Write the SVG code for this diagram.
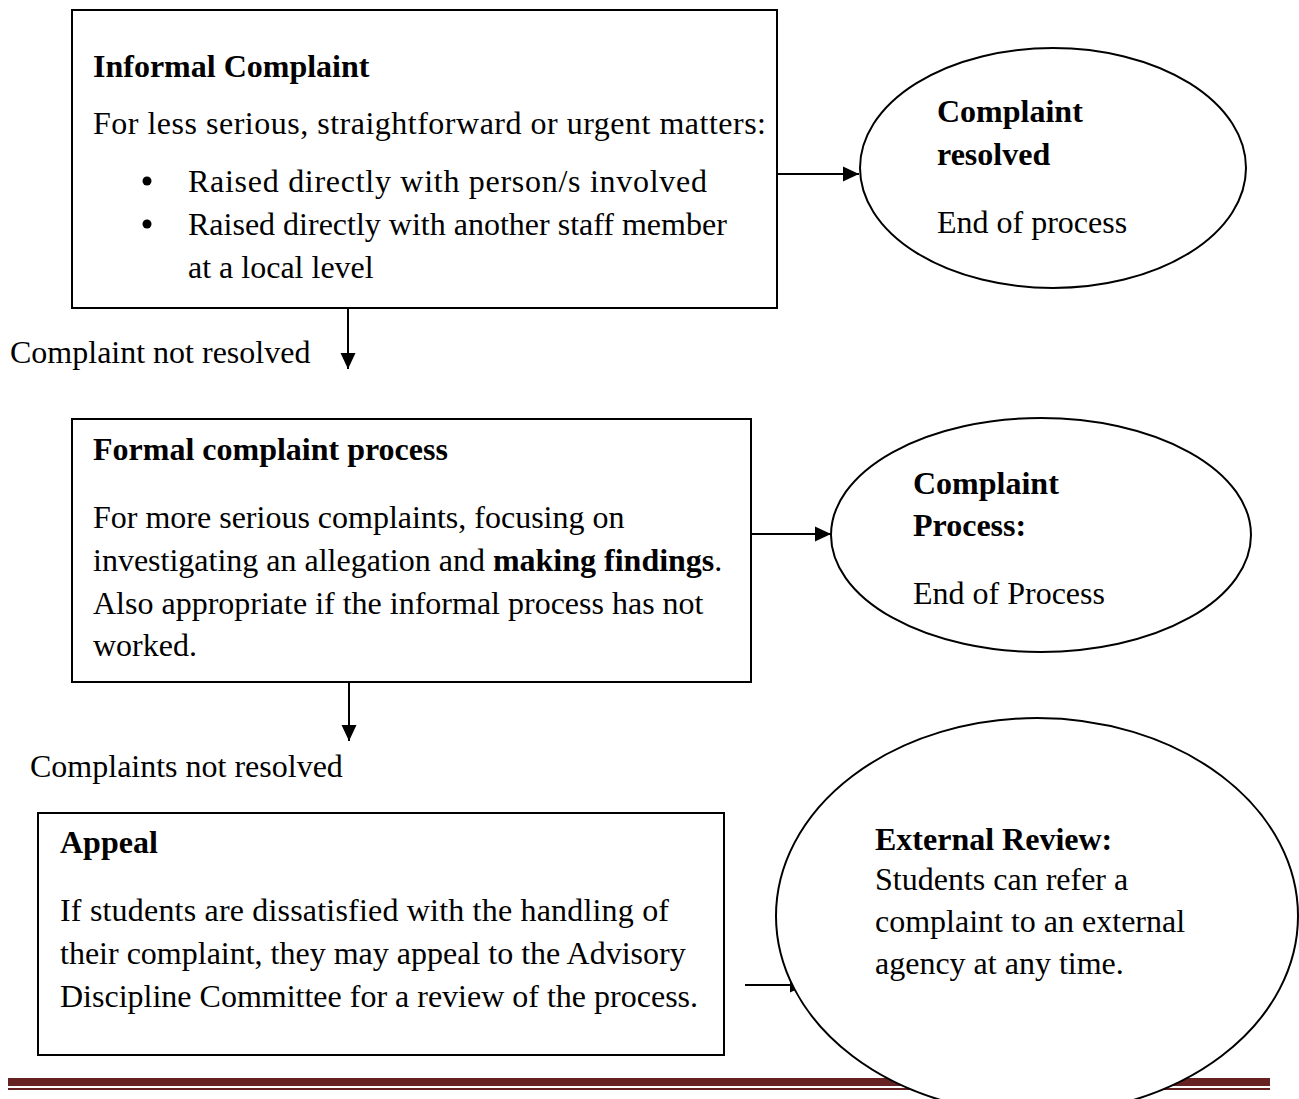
<svg xmlns="http://www.w3.org/2000/svg" width="1299" height="1099" viewBox="0 0 1299 1099">
<style>
text{font-family:"Liberation Serif","Times New Roman",serif;font-size:32px;fill:#000}
.b{font-weight:bold}
.box{fill:#fff;stroke:#000;stroke-width:2}
.ell{fill:#fff;stroke:#000;stroke-width:2}
.con{stroke:#000;stroke-width:2;fill:none}
</style>
<defs>
<marker id="ah" markerUnits="userSpaceOnUse" markerWidth="17" markerHeight="17" viewBox="0 0 17 16" refX="16" refY="8" orient="auto">
<path d="M0,0.5 L16,8 L0,15.5 Z" fill="#000"/>
</marker>
</defs>
<rect x="0" y="0" width="1299" height="1099" fill="#fff"/>
<g id="connectors">
<line class="con" x1="777" y1="174" x2="859" y2="174" marker-end="url(#ah)"/>
<line class="con" x1="348" y1="308" x2="348" y2="369" marker-end="url(#ah)"/>
<line class="con" x1="751" y1="534" x2="831" y2="534" marker-end="url(#ah)"/>
<line class="con" x1="349" y1="682" x2="349" y2="741" marker-end="url(#ah)"/>
<line class="con" x1="745" y1="985" x2="806" y2="985" marker-end="url(#ah)"/>
</g>
<g id="footer-rule">
<rect x="8" y="1078" width="1262" height="8" fill="#662222"/>
<rect x="8" y="1088" width="1262" height="2" fill="#662222"/>
</g>
<g id="informal">
<rect class="box" x="72" y="10" width="705" height="298"/>
<text class="b" x="93" y="77">Informal Complaint</text>
<text x="93" y="134" textLength="673" lengthAdjust="spacing">For less serious, straightforward or urgent matters:</text>
<circle cx="147" cy="181" r="4.5"/>
<text x="188" y="192" textLength="519" lengthAdjust="spacing">Raised directly with person/s involved</text>
<circle cx="147" cy="224" r="4.5"/>
<text x="188" y="235">Raised directly with another staff member</text>
<text x="188" y="278">at a local level</text>
</g>
<g id="resolved">
<ellipse class="ell" cx="1053" cy="168" rx="193" ry="120"/>
<text class="b" x="937" y="122">Complaint</text>
<text class="b" x="937" y="165">resolved</text>
<text x="937" y="233">End of process</text>
</g>
<g id="label-not-resolved">
<text x="10" y="363">Complaint not resolved</text>
</g>
<g id="formal">
<rect class="box" x="72" y="419" width="679" height="263"/>
<text class="b" x="93" y="460">Formal complaint process</text>
<text x="93" y="528">For more serious complaints, focusing on</text>
<text x="93" y="571">investigating an allegation and <tspan class="b">making findings</tspan>.</text>
<text x="93" y="614">Also appropriate if the informal process has not</text>
<text x="93" y="656">worked.</text>
</g>
<g id="process-end">
<ellipse class="ell" cx="1041" cy="535" rx="210" ry="117"/>
<text class="b" x="913" y="494">Complaint</text>
<text class="b" x="913" y="536">Process:</text>
<text x="913" y="604">End of Process</text>
</g>
<g id="label-complaints-not-resolved">
<text x="30" y="777">Complaints not resolved</text>
</g>
<g id="appeal">
<rect class="box" x="38" y="813" width="686" height="242"/>
<text class="b" x="60" y="853">Appeal</text>
<text x="60" y="921" textLength="609" lengthAdjust="spacing">If students are dissatisfied with the handling of</text>
<text x="60" y="964">their complaint, they may appeal to the Advisory</text>
<text x="60" y="1007">Discipline Committee for a review of the process.</text>
</g>
<g id="external">
<ellipse class="ell" cx="1037" cy="916" rx="261" ry="198"/>
<text class="b" x="875" y="850">External Review:</text>
<text x="875" y="890">Students can refer a</text>
<text x="875" y="932">complaint to an external</text>
<text x="875" y="974">agency at any time.</text>
</g>
</svg>
